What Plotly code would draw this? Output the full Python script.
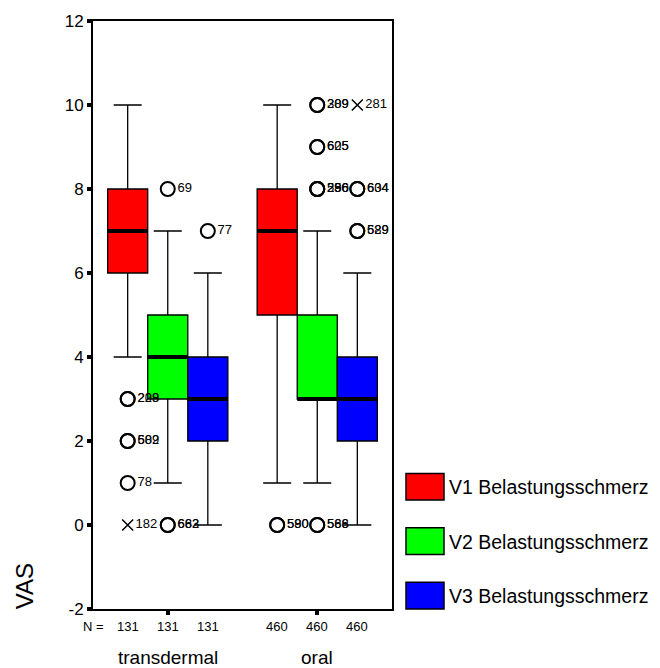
import plotly.graph_objects as go

# ---------------- data ----------------
groups = ["transdermal", "oral"]
series = ["V1 Belastungsschmerz", "V2 Belastungsschmerz", "V3 Belastungsschmerz"]
colors = ["#FF0000", "#00FF00", "#0000FF"]
n_counts = [[131, 131, 131], [460, 460, 460]]
y_ticks = [-2, 0, 2, 4, 6, 8, 10, 12]
y_tick_labels = ["-2", "0", "2", "4", "6", "8", "10", "12"]

# per series: values for [transdermal, oral]
lower_whisker = [[4, 1], [1, 1], [0, 0]]
q1_vals = [[6, 5], [3, 3], [2, 2]]
median_vals = [[7, 7], [4, 3], [3, 3]]
q3_vals = [[8, 8], [5, 5], [4, 4]]
upper_whisker = [[10, 10], [7, 7], [6, 6]]

# outliers: (group index, series index, value, label)
outliers = [
    (0, 0, 3, "228"), (0, 0, 3, "209"),
    (0, 0, 2, "582"), (0, 0, 2, "609"),
    (0, 0, 1, "78"),
    (0, 1, 8, "69"),
    (0, 1, 0, "662"), (0, 1, 0, "683"),
    (0, 2, 7, "77"),
    (1, 0, 0, "580"), (1, 0, 0, "590"),
    (1, 1, 10, "289"), (1, 1, 10, "309"),
    (1, 1, 9, "625"), (1, 1, 9, "605"),
    (1, 1, 8, "286"), (1, 1, 8, "256"), (1, 1, 8, "590"),
    (1, 1, 0, "588"), (1, 1, 0, "566"),
    (1, 2, 8, "604"), (1, 2, 8, "634"),
    (1, 2, 7, "629"), (1, 2, 7, "589"),
]
# extremes: (group index, series index, value, label)
extremes = [
    (0, 0, 0, "182"),
    (1, 2, 10, "281"),
]

# ---------------- layout helpers ----------------
FONT = "Liberation Sans, Arial, sans-serif"
W, H = 660, 668
L, R, T, B = 93, 268, 15, 59
PW, PH = W - L - R, H - T - B
OFF = 0.268          # offset between boxes inside a group (data units)
BOXW = 0.268


def xpos(g, s):
    return g + (s - 1) * OFF


def px_to_paper_x(px):
    return (px - L) / PW


def px_to_paper_y(py):
    return (H - B - py) / PH


fig = go.Figure()

for s, name in enumerate(series):
    xs = [xpos(g, s) for g in range(len(groups))]
    fig.add_trace(go.Box(
        x=xs,
        q1=q1_vals[s], median=median_vals[s], q3=q3_vals[s],
        lowerfence=lower_whisker[s], upperfence=upper_whisker[s],
        name=name, width=BOXW, whiskerwidth=0.7,
        fillcolor=colors[s], line=dict(color="black", width=1.3),
        boxpoints=False, showlegend=False, hoverinfo="skip",
    ))
    # thick median lines
    for g in range(len(groups)):
        xc = xpos(g, s)
        fig.add_trace(go.Scatter(
            x=[xc - BOXW / 2, xc + BOXW / 2],
            y=[median_vals[s][g]] * 2,
            mode="lines", line=dict(color="black", width=4),
            showlegend=False, hoverinfo="skip",
        ))

fig.add_trace(go.Scatter(
    x=[xpos(g, s) for g, s, v, t in outliers],
    y=[v for g, s, v, t in outliers],
    text=[t for g, s, v, t in outliers],
    mode="markers+text", textposition="middle right",
    textfont=dict(family=FONT, size=13, color="black"),
    marker=dict(symbol="circle-open", size=14, color="black",
                line=dict(width=2, color="black")),
    showlegend=False, hoverinfo="skip", cliponaxis=False,
))
fig.add_trace(go.Scatter(
    x=[xpos(g, s) for g, s, v, t in extremes],
    y=[v for g, s, v, t in extremes],
    text=[t for g, s, v, t in extremes],
    mode="markers+text", textposition="middle right",
    textfont=dict(family=FONT, size=13, color="black"),
    marker=dict(symbol="x-thin-open", size=11, color="black",
                line=dict(width=1.5, color="black")),
    showlegend=False, hoverinfo="skip", cliponaxis=False,
))

annotations = []
# N = row
annotations.append(dict(x=px_to_paper_x(93), y=px_to_paper_y(627), xref="paper", yref="paper",
                        text="N =", showarrow=False, xanchor="center", yanchor="middle",
                        font=dict(family=FONT, size=13, color="black")))
for g in range(len(groups)):
    for s in range(len(series)):
        annotations.append(dict(x=xpos(g, s), y=px_to_paper_y(627), xref="x", yref="paper",
                                text=str(n_counts[g][s]), showarrow=False,
                                xanchor="center", yanchor="middle",
                                font=dict(family=FONT, size=13, color="black")))
    annotations.append(dict(x=g, y=px_to_paper_y(658), xref="x", yref="paper",
                            text=groups[g], showarrow=False, xanchor="center", yanchor="middle",
                            font=dict(family=FONT, size=19, color="black")))

# VAS title
annotations.append(dict(x=px_to_paper_x(24), y=px_to_paper_y(586), xref="paper", yref="paper",
                        text="VAS", textangle=-90, showarrow=False,
                        xanchor="center", yanchor="middle",
                        font=dict(family=FONT, size=24, color="black")))

# legend (drawn)
shapes = []
leg_tops = [472, 527, 582]
for s, name in enumerate(series):
    y0 = leg_tops[s]
    shapes.append(dict(type="rect", xref="paper", yref="paper",
                       x0=px_to_paper_x(406), x1=px_to_paper_x(444),
                       y0=px_to_paper_y(y0 + 27), y1=px_to_paper_y(y0),
                       fillcolor=colors[s], line=dict(color="black", width=1.5)))
    annotations.append(dict(x=px_to_paper_x(447), y=px_to_paper_y(y0 + 14),
                            xref="paper", yref="paper", text=name, showarrow=False,
                            xanchor="left", yanchor="middle",
                            font=dict(family=FONT, size=19.5, color="black")))

fig.update_layout(
    width=W, height=H,
    margin=dict(l=L, r=R, t=T, b=B),
    paper_bgcolor="white", plot_bgcolor="white",
    showlegend=False,
    annotations=annotations, shapes=shapes,
    font=dict(family=FONT, color="black"),
)
fig.update_xaxes(range=[-0.5, 1.5], showgrid=False, zeroline=False,
                 showline=True, mirror=True, linecolor="black", linewidth=2,
                 tickmode="array", tickvals=list(range(len(groups))),
                 ticktext=["", ""], ticks="outside", ticklen=4, tickwidth=4,
                 tickcolor="black")
fig.update_yaxes(range=[-2, 12], showgrid=False, zeroline=False,
                 showline=True, mirror=True, linecolor="black", linewidth=2,
                 tickmode="array", tickvals=y_ticks, ticktext=y_tick_labels,
                 ticks="outside", ticklen=4, tickwidth=4, tickcolor="black",
                 tickfont=dict(family=FONT, size=17, color="black"))

fig.write_html("out.html")
